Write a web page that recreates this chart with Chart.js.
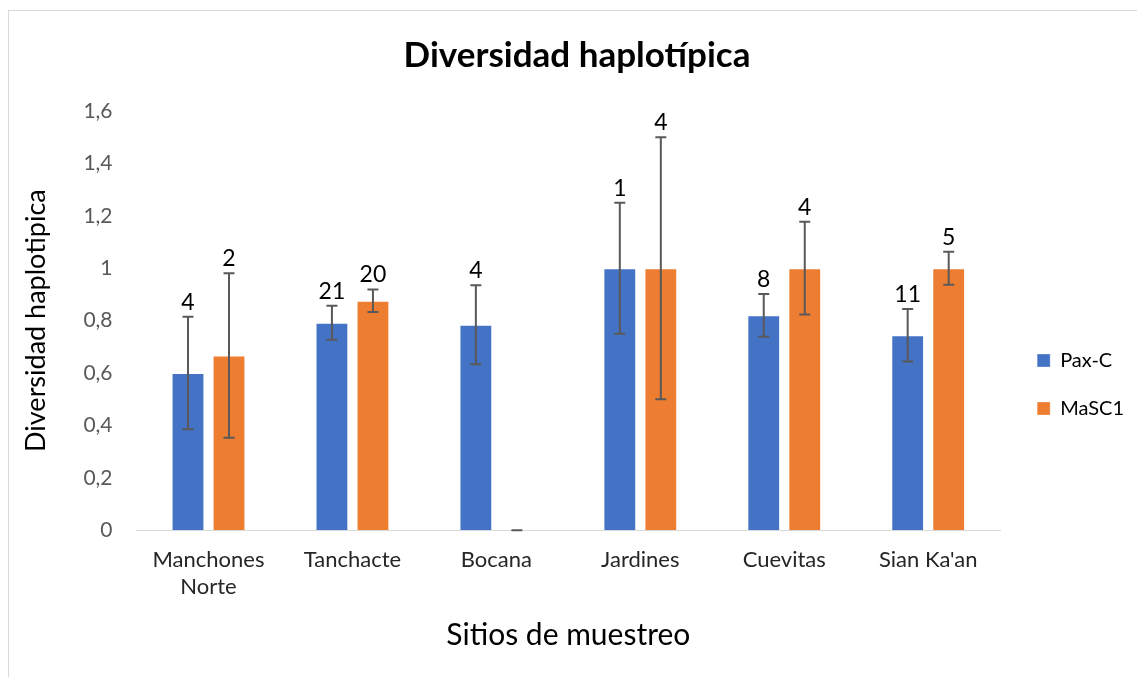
<!DOCTYPE html>
<html>
<head>
<meta charset="utf-8">
<script src="https://cdn.jsdelivr.net/npm/chart.js@4/dist/chart.umd.min.js"></script>
<style>
  html, body { margin: 0; padding: 0; background: #fff; }
  #frame { position: absolute; left: 8px; top: 10px; width: 1140px; height: 680px; border: 1px solid #d9d9d9; box-sizing: border-box; }
  #wrap { position: absolute; left: 0; top: 0; width: 1137px; height: 677px; }
</style>
</head>
<body>
<div id="frame"></div>
<div id="wrap"><canvas id="c" width="1137" height="677"></canvas></div>
<script>
const categories = [['Manchones', 'Norte'], 'Tanchacte', 'Bocana', 'Jardines', 'Cuevitas', "Sian Ka'an"];
const paxC = [0.600, 0.792, 0.784, 1.0, 0.820, 0.744];
const masc1 = [0.667, 0.876, 0, 1.0, 1.0, 1.0];
const paxCErr = [0.215, 0.065, 0.151, 0.25, 0.082, 0.10];
const masc1Err = [0.314, 0.043, 0, 0.5, 0.177, 0.063];
const paxCN = ['4', '21', '4', '1', '8', '11'];
const masc1N = ['2', '20', '', '4', '4', '5'];
const yTicks = [0, 0.2, 0.4, 0.6, 0.8, 1, 1.2, 1.4, 1.6];

const FONT = 'Lato, "Open Sans", sans-serif';
const errs = [paxCErr, masc1Err];
const counts = [paxCN, masc1N];

const errorBarPlugin = {
  id: 'errorBars',
  afterDatasetsDraw(chart) {
    const ctx = chart.ctx;
    const y = chart.scales.y;
    chart.data.datasets.forEach((ds, di) => {
      const meta = chart.getDatasetMeta(di);
      meta.data.forEach((el, i) => {
        const v = ds.data[i];
        const e = errs[di][i];
        const top = y.getPixelForValue(v + e);
        const bot = y.getPixelForValue(v - e);
        const x = el.x;
        ctx.save();
        ctx.strokeStyle = '#595959';
        ctx.lineWidth = 2;
        ctx.beginPath();
        ctx.moveTo(x, top); ctx.lineTo(x, bot);
        ctx.moveTo(x - 5.5, top); ctx.lineTo(x + 5.5, top);
        ctx.moveTo(x - 5.5, bot); ctx.lineTo(x + 5.5, bot);
        ctx.stroke();
        const lbl = counts[di][i];
        if (lbl) {
          ctx.fillStyle = '#000';
          ctx.font = '23px ' + FONT;
          ctx.textAlign = 'center';
          ctx.textBaseline = 'bottom';
          ctx.fillText(lbl, x, top - 3);
        }
        ctx.restore();
      });
    });
  }
};

new Chart(document.getElementById('c'), {
  type: 'bar',
  data: {
    labels: categories,
    datasets: [
      { label: 'Pax-C', data: paxC, backgroundColor: '#4472C4', borderColor: 'rgba(255,255,255,0.3)', borderWidth: 1,
        categoryPercentage: 0.57, barPercentage: 0.8 },
      { label: 'MaSC1', data: masc1, backgroundColor: '#ED7D31', borderColor: 'rgba(255,255,255,0.3)', borderWidth: 1,
        categoryPercentage: 0.57, barPercentage: 0.8 }
    ]
  },
  options: {
    responsive: false,
    animation: false,
    layout: { padding: { left: 20, right: 3, top: 35, bottom: 24 } },
    plugins: {
      title: {
        display: true,
        text: 'Diversidad haplotípica',
        color: '#000',
        font: { family: FONT, size: 35, weight: 'bold' },
        padding: { top: 0, bottom: 34 }
      },
      legend: {
        position: 'right',
        title: { display: true, text: '', padding: { top: 57, bottom: 0 }, font: { size: 20 } },
        labels: {
          color: '#000',
          font: { family: FONT, size: 20 },
          boxWidth: 13, boxHeight: 13,
          padding: 28
        }
      },
      tooltip: { enabled: false }
    },
    scales: {
      x: {
        grid: { display: false, drawTicks: false },
        border: { display: true, color: '#d9d9d9', width: 1 },
        ticks: { color: '#262626', font: { family: FONT, size: 22 }, padding: 17, maxRotation: 0 },
        title: { display: true, text: 'Sitios de muestreo', color: '#000', font: { family: FONT, size: 30 }, padding: { top: 0, bottom: 0 } }
      },
      y: {
        min: 0, max: 1.6,
        afterBuildTicks(axis) { axis.ticks = yTicks.map(v => ({ value: v })); },
        grid: { display: false, drawTicks: false },
        border: { display: false },
        ticks: {
          color: '#595959', font: { family: FONT, size: 21 }, padding: 24,
          callback: v => String(Math.round(v * 10) / 10).replace('.', ',')
        },
        title: { display: true, text: 'Diversidad haplotipica', color: '#000', font: { family: FONT, size: 27 }, padding: { top: 0, bottom: 7 } }
      },
      gapRight: {
        type: 'linear', position: 'right', display: true,
        grid: { display: false, drawTicks: false }, border: { display: false },
        ticks: { display: false },
        afterFit(scale) { scale.width = 9; }
      }
    }
  },
  plugins: [errorBarPlugin]
});
</script>
</body>
</html>
